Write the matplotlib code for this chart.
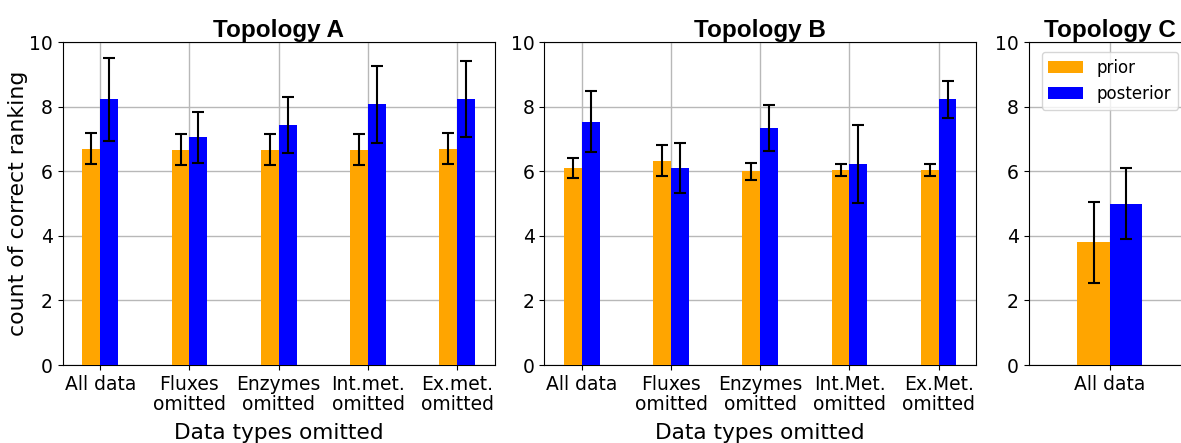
import matplotlib
matplotlib.use("Agg")
import matplotlib.pyplot as plt
import numpy as np

cats_A = ["All data", "Fluxes\nomitted", "Enzymes\nomitted", "Int.met.\nomitted", "Ex.met.\nomitted"]
prior_A = [6.70, 6.67, 6.67, 6.67, 6.70]
prior_A_err = [0.47, 0.48, 0.48, 0.48, 0.47]
post_A = [8.23, 7.06, 7.44, 8.07, 8.23]
post_A_err = [1.28, 0.79, 0.86, 1.18, 1.17]

cats_B = ["All data", "Fluxes\nomitted", "Enzymes\nomitted", "Int.Met.\nomitted", "Ex.Met.\nomitted"]
prior_B = [6.10, 6.33, 6.00, 6.03, 6.03]
prior_B_err = [0.30, 0.48, 0.26, 0.19, 0.19]
post_B = [7.54, 6.10, 7.33, 6.23, 8.23]
post_B_err = [0.94, 0.76, 0.71, 1.20, 0.57]

cats_C = ["All data"]
prior_C = [3.80]
prior_C_err = [1.25]
post_C = [5.00]
post_C_err = [1.10]

fig = plt.figure(figsize=(11.81, 4.43), dpi=100)
bottom, top = 0.176, 0.905
axA = fig.add_axes([0.0531, bottom, 0.419 - 0.0531, top - bottom])
axB = fig.add_axes([0.461, bottom, 0.8265 - 0.461, top - bottom])
axC = fig.add_axes([0.871, bottom, 1.0085 - 0.871, top - bottom])

w = 0.2
ekw = dict(elinewidth=1.5, capthick=1.5)

def draw(ax, cats, pr, pre, po, poe, title):
    x = np.arange(len(cats))
    ax.bar(x - w / 2, pr, w, yerr=pre, color="orange", label="prior",
           capsize=4, error_kw=ekw, zorder=3)
    ax.bar(x + w / 2, po, w, yerr=poe, color="blue", label="posterior",
           capsize=4, error_kw=ekw, zorder=3)
    ax.set_xticks(x)
    ax.set_xticklabels(cats, fontsize=13.5, linespacing=1.05)
    ax.set_ylim(0, 10)
    ax.set_yticks([0, 2, 4, 6, 8, 10])
    ax.tick_params(axis="y", labelsize=13.5)
    ax.grid(True, color="#b8b8b8", linewidth=1.0, zorder=0)
    ax.set_axisbelow(True)
    ax.set_title(title, fontsize=17.5, fontweight="bold", family="Liberation Sans", pad=4)

draw(axA, cats_A, prior_A, prior_A_err, post_A, post_A_err, "Topology A")
draw(axB, cats_B, prior_B, prior_B_err, post_B, post_B_err, "Topology B")
draw(axC, cats_C, prior_C, prior_C_err, post_C, post_C_err, "Topology C")
axC.set_xlim(-0.5, 0.5)

axA.set_ylabel("count of correct ranking", fontsize=15.8, labelpad=1)
axA.set_xlabel("Data types omitted", fontsize=15.6, labelpad=6.5)
axB.set_xlabel("Data types omitted", fontsize=15.6, labelpad=6.5)

axC.legend(loc="upper left", bbox_to_anchor=(0.05, 0.985), fontsize=12,
           handlelength=2.1, borderaxespad=0.3)

fig.savefig("out.png", dpi=100)
